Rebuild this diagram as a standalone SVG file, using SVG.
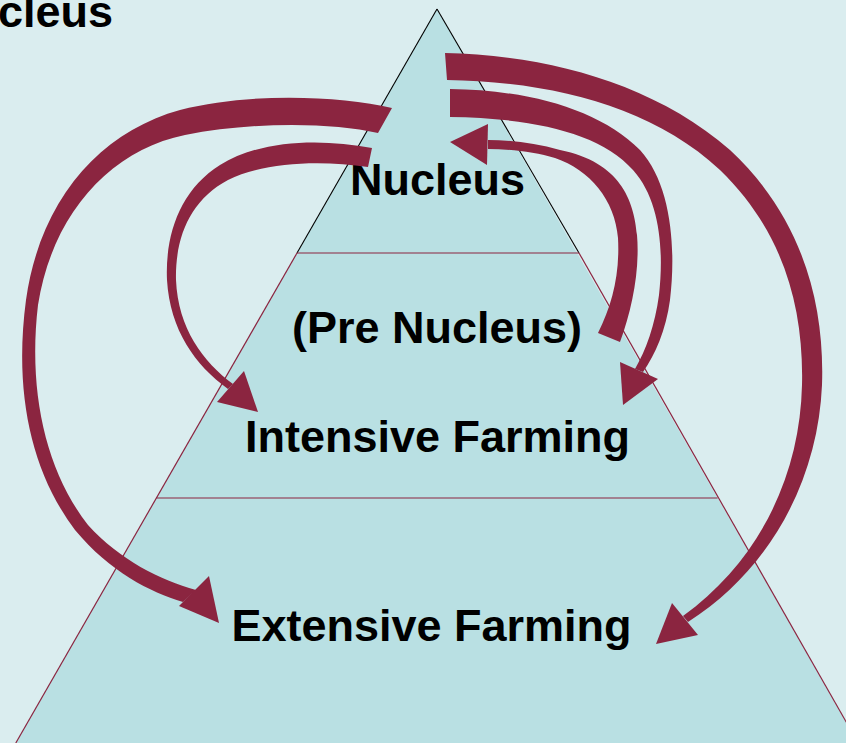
<svg xmlns="http://www.w3.org/2000/svg" width="846" height="743" viewBox="0 0 846 743">
<style>
.lbl{font-family:"Liberation Sans",Arial,sans-serif;font-weight:bold;font-size:45px;fill:#000;text-anchor:middle}
.arw{fill:#8B2540;stroke:none}
.edgeK{stroke:#000;stroke-width:1.1;fill:none}
.edgeR{stroke:#8B2540;stroke-width:1.2;fill:none}
</style>
<rect x="0" y="0" width="846" height="743" fill="#DAEDEF"/>
<text x="-62" y="27" class="lbl" style="text-anchor:start">Nucleus</text>
<g id="pyramid">
<polygon points="437,9 15.8,743 858.2,743" fill="#B9E0E3"/>
<line class="edgeK" x1="437" y1="9" x2="297" y2="253"/>
<line class="edgeK" x1="437" y1="9" x2="579" y2="253"/>
<line class="edgeR" x1="297" y1="253" x2="15.8" y2="743"/>
<line class="edgeR" x1="579" y1="253" x2="858.2" y2="743"/>
<line class="edgeR" x1="297" y1="253" x2="579" y2="253"/>
<line class="edgeR" x1="156.4" y1="498" x2="717.6" y2="498"/>
</g>
<g id="node-nucleus"><text class="lbl" x="437.5" y="195">Nucleus</text></g>
<g id="node-prenucleus"><text class="lbl" x="437" y="343">(Pre Nucleus)</text></g>
<g id="node-intensive"><text class="lbl" x="437.5" y="452">Intensive Farming</text></g>
<g id="node-extensive"><text class="lbl" x="431.5" y="641">Extensive Farming</text></g>
<g id="connectors">
<!-- A: Nucleus -> Extensive (left outer) -->
<path class="arw" d="M392,108 C340,96 250,92 180,110 C100,132 40,200 26,300 C14,390 30,470 75,530 C110,572 150,592 183,602 L196,590 C160,580 120,560 88,525 C45,470 28,390 38,305 C52,215 110,150 185,135 C250,122 330,122 378,133 Z"/>
<polygon class="arw" points="179,606 209,576 219,623"/>
<!-- B: Nucleus -> Intensive (left inner) -->
<path class="arw" d="M372,148 C320,138 260,140 220,165 C180,190 165,235 167,280 C170,330 195,365 228,389 L233,384 C203,362 178,328 176,280 C175,238 190,200 228,180 C265,162 320,160 368,167 Z"/>
<polygon class="arw" points="217,402 244,371 258,412"/>
<!-- C: Nucleus -> Extensive (right outer) -->
<path class="arw" d="M445,53 C540,55 650,80 730,150 C800,215 825,300 822,385 C818,480 770,570 688,622 L683,616 C760,560 800,475 802,385 C804,305 782,230 720,170 C650,105 550,82 447,80 Z"/>
<polygon class="arw" points="672,603 698,635 656,644"/>
<!-- D: Nucleus -> Intensive (right) -->
<path class="arw" d="M450,89 C530,90 600,110 640,150 C672,185 676,250 670,300 C666,330 655,355 643,372 L635,369 C646,350 655,325 659,295 C664,250 660,200 633,170 C600,132 530,118 450,117 Z"/>
<polygon class="arw" points="620,362 658,379 623,405"/>
<!-- E: Pre Nucleus -> Nucleus -->
<path class="arw" d="M620,342 C632,310 640,270 637,235 C634,200 620,162 560,150 C535,143 510,140 488,140 L488,149 C510,149 535,152 555,158 C590,170 615,200 618,238 C620,275 612,305 598,333 Z"/>
<polygon class="arw" points="450,142 488,124 487,165"/>
</g>
</svg>
